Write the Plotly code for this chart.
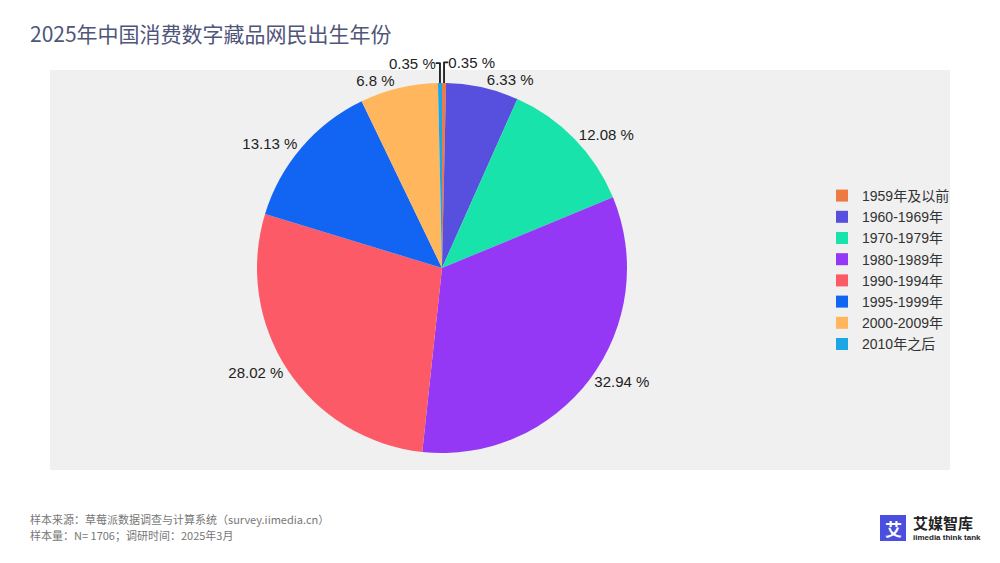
import plotly.graph_objects as go

categories = ["1959年及以前", "1960-1969年", "1970-1979年", "1980-1989年",
              "1990-1994年", "1995-1999年", "2000-2009年", "2010年之后"]
values = [0.35, 6.33, 12.08, 32.94, 28.02, 13.13, 6.8, 0.35]
colors = ["#EE7A43", "#5750DF", "#17E3AA", "#9438F6",
          "#FB5A66", "#1264F2", "#FFB65C", "#1BA7E6"]

title = "2025年中国消费数字藏品网民出生年份"
source_lines = ["样本来源：草莓派数据调查与计算系统（survey.iimedia.cn）",
                "样本量：N= 1706；调研时间：2025年3月"]

W, H = 1000, 563


def px(x):
    return x / W


def py(y):
    return (H - y) / H


cx, cy, half = 442, 268, 185

fig = go.Figure(go.Pie(
    labels=categories, values=values,
    marker=dict(colors=colors, line=dict(width=0)),
    sort=False, direction="clockwise", rotation=0,
    textposition="outside", texttemplate="%{value} %",
    textfont=dict(size=15, color="#222222", family="Liberation Sans, Arial"),
    domain=dict(x=[px(cx - half), px(cx + half)], y=[py(cy + half), py(cy - half)]),
    hoverinfo="label+value",
))

fig.update_layout(
    width=W, height=H,
    margin=dict(l=0, r=0, t=0, b=0),
    paper_bgcolor="white",
    showlegend=True,
    legend=dict(x=px(822), y=py(270), xanchor="left", yanchor="middle",
                font=dict(size=14, color="#333333", family="Liberation Sans, Noto Sans CJK SC"),
                bgcolor="rgba(0,0,0,0)", itemwidth=30, tracegroupgap=0),
    shapes=[
        dict(type="rect", xref="paper", yref="paper", x0=px(50), x1=px(950),
             y0=py(470), y1=py(70),
             fillcolor="#F0F0F0", line=dict(width=0), layer="below"),
        dict(type="rect", xref="paper", yref="paper",
             x0=px(880), x1=px(906), y0=py(541), y1=py(515),
             fillcolor="#4B4FE0", line=dict(width=0), layer="above"),
    ],
    annotations=[
        dict(text=title, xref="paper", yref="paper",
             x=px(28), y=py(33), xanchor="left", yanchor="middle",
             showarrow=False,
             font=dict(size=21, color="#50557A", family="Noto Sans CJK SC")),
        dict(text=source_lines[0], xref="paper", yref="paper",
             x=px(28), y=py(519), xanchor="left", yanchor="middle",
             showarrow=False,
             font=dict(size=11, color="#777777", family="Noto Sans CJK SC")),
        dict(text=source_lines[1], xref="paper", yref="paper",
             x=px(28), y=py(535), xanchor="left", yanchor="middle",
             showarrow=False,
             font=dict(size=11, color="#777777", family="Noto Sans CJK SC")),
        dict(text="<b>艾</b>", xref="paper", yref="paper",
             x=px(893), y=py(528), xanchor="center", yanchor="middle",
             showarrow=False,
             font=dict(size=17, color="white", family="Noto Sans CJK SC")),
        dict(text="<b>艾媒智库</b>", xref="paper", yref="paper",
             x=px(911), y=py(522), xanchor="left", yanchor="middle",
             showarrow=False,
             font=dict(size=15, color="#222222", family="Noto Sans CJK SC")),
        dict(text="<b>iimedia think tank</b>", xref="paper", yref="paper",
             x=px(911), y=py(537), xanchor="left", yanchor="middle",
             showarrow=False,
             font=dict(size=8, color="#222222", family="Liberation Sans")),
    ],
)

fig.write_html("out.html", config={"displayModeBar": False},
               post_script="document.body.style.margin='0';")
